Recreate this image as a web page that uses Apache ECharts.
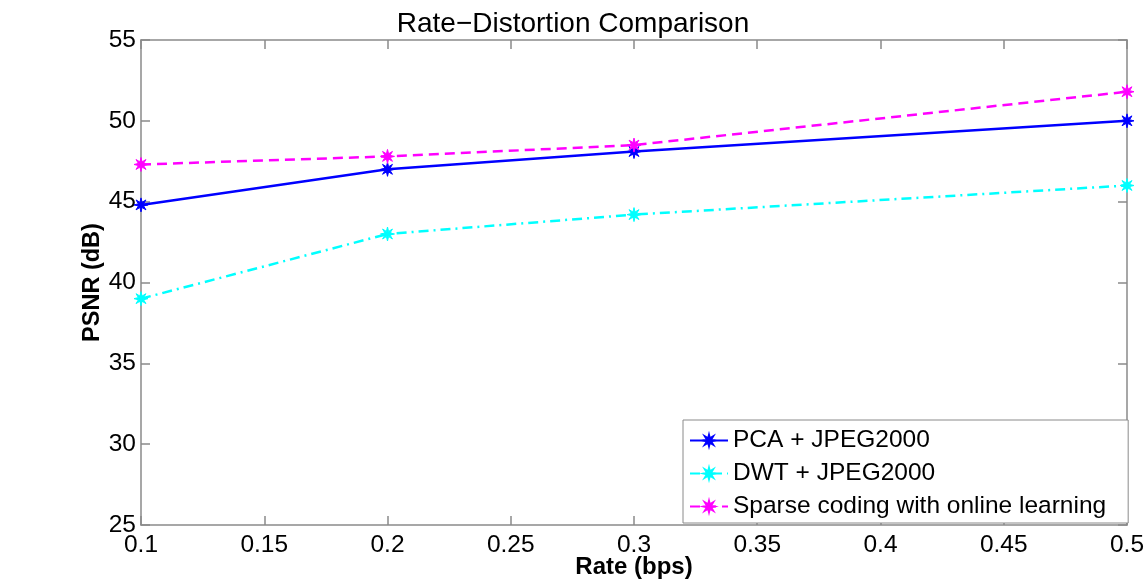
<!DOCTYPE html>
<html>
<head>
<meta charset="utf-8">
<title>Rate-Distortion Comparison</title>
<script src="https://cdn.jsdelivr.net/npm/echarts@6/dist/echarts.min.js"></script>
<style>
    html, body { margin: 0; padding: 0; background: #fff; }
    #chart { width: 1146px; height: 582px; }
</style>
</head>
<body>
<div id="chart"></div>
<script>
// rate values (bps)
var rates = [0.1, 0.2, 0.3, 0.5];

// PSNR values (dB)
var pcaJpeg = [44.8, 47.0, 48.1, 50.0];
var dwtJpeg = [39.0, 43.0, 44.2, 46.0];
var sparseOnline = [47.3, 47.8, 48.5, 51.8];

var seriesNames = [
    'PCA + JPEG2000',
    'DWT + JPEG2000',
    'Sparse coding with online learning'
];

var FONT = '"Liberation Sans", Arial, sans-serif';
var AXIS_COLOR = '#8a8a8a';

// asterisk-like marker (8 point star)
var STAR = 'path://M10,0 L11.53,6.3 L17.07,2.93 L13.7,8.47 L20,10 L13.7,11.53 '
    + 'L17.07,17.07 L11.53,13.7 L10,20 L8.47,13.7 L2.93,17.07 L6.3,11.53 '
    + 'L0,10 L6.3,8.47 L2.93,2.93 L8.47,6.3 Z';

function pairs(ys) {
    var out = [];
    for (var i = 0; i < rates.length; ++i) {
        out.push([rates[i], ys[i]]);
    }
    return out;
}

function makeSeries(name, ys, color, type) {
    return {
        name: name,
        type: 'line',
        data: pairs(ys),
        symbol: STAR,
        symbolSize: 14,
        itemStyle: { color: color, borderColor: color, borderWidth: 1 },
        lineStyle: { color: color, width: 2.5, type: type },
        emphasis: { disabled: true },
        animation: false
    };
}

var chart = echarts.init(document.getElementById('chart'));

var tickLabel = {
    color: '#000',
    fontFamily: FONT,
    fontSize: 24.5
};

chart.setOption({
    backgroundColor: '#fff',
    title: {
        text: 'Rate\u2212Distortion Comparison',
        left: 'center',
        top: 5,
        textStyle: {
            color: '#000',
            fontFamily: FONT,
            fontSize: 28,
            fontWeight: 'normal'
        }
    },
    grid: {
        left: 141,
        top: 40,
        right: 19,
        bottom: 57,
        containLabel: false,
        outerBoundsMode: 'none'
    },
    legend: {
        orient: 'vertical',
        left: 683,
        top: 420,
        data: seriesNames,
        backgroundColor: '#fff',
        borderColor: AXIS_COLOR,
        borderWidth: 1,
        padding: [8, 22, 4, 6],
        itemWidth: 38,
        itemHeight: 14,
        itemGap: 8,
        textStyle: {
            color: '#000',
            fontFamily: FONT,
            fontSize: 24.5,
            padding: [0, 0, 0, 0]
        }
    },
    xAxis: [{
        type: 'value',
        min: 0.1,
        max: 0.5,
        interval: 0.05,
        name: 'Rate (bps)',
        nameLocation: 'middle',
        nameGap: 30,
        nameMoveOverlap: false,
        nameTextStyle: {
            color: '#000',
            fontFamily: FONT,
            fontSize: 24,
            fontWeight: 'bold'
        },
        axisLine: { lineStyle: { color: AXIS_COLOR, width: 1.5 } },
        axisTick: { inside: true, length: 9, lineStyle: { color: AXIS_COLOR, width: 1.5 } },
        splitLine: { show: false },
        axisLabel: Object.assign({
            margin: 8,
            formatter: function (v) {
                return String(parseFloat(v.toFixed(2)));
            }
        }, tickLabel)
    }, {
        type: 'value',
        position: 'top',
        min: 0.1,
        max: 0.5,
        interval: 0.05,
        axisLine: { lineStyle: { color: AXIS_COLOR, width: 1.5 } },
        axisTick: { inside: true, length: 9, lineStyle: { color: AXIS_COLOR, width: 1.5 } },
        axisLabel: { show: false },
        splitLine: { show: false }
    }],
    yAxis: [{
        type: 'value',
        min: 25,
        max: 55,
        interval: 5,
        name: 'PSNR (dB)',
        nameLocation: 'middle',
        nameGap: 36,
        nameMoveOverlap: false,
        nameTextStyle: {
            color: '#000',
            fontFamily: FONT,
            fontSize: 23.5,
            fontWeight: 'bold'
        },
        axisLine: { show: true, lineStyle: { color: AXIS_COLOR, width: 1.5 } },
        axisTick: { show: true, inside: true, length: 9, lineStyle: { color: AXIS_COLOR, width: 1.5 } },
        splitLine: { show: false },
        axisLabel: Object.assign({ margin: 5 }, tickLabel)
    }, {
        type: 'value',
        position: 'right',
        min: 25,
        max: 55,
        interval: 5,
        axisLine: { show: true, lineStyle: { color: AXIS_COLOR, width: 1.5 } },
        axisTick: { show: true, inside: true, length: 9, lineStyle: { color: AXIS_COLOR, width: 1.5 } },
        axisLabel: { show: false },
        splitLine: { show: false }
    }],
    series: [
        makeSeries(seriesNames[0], pcaJpeg, '#0000ff', 'solid'),
        makeSeries(seriesNames[1], dwtJpeg, '#00ffff', [10, 5, 2, 5]),
        makeSeries(seriesNames[2], sparseOnline, '#ff00ff', [10, 6])
    ]
});
</script>
</body>
</html>
